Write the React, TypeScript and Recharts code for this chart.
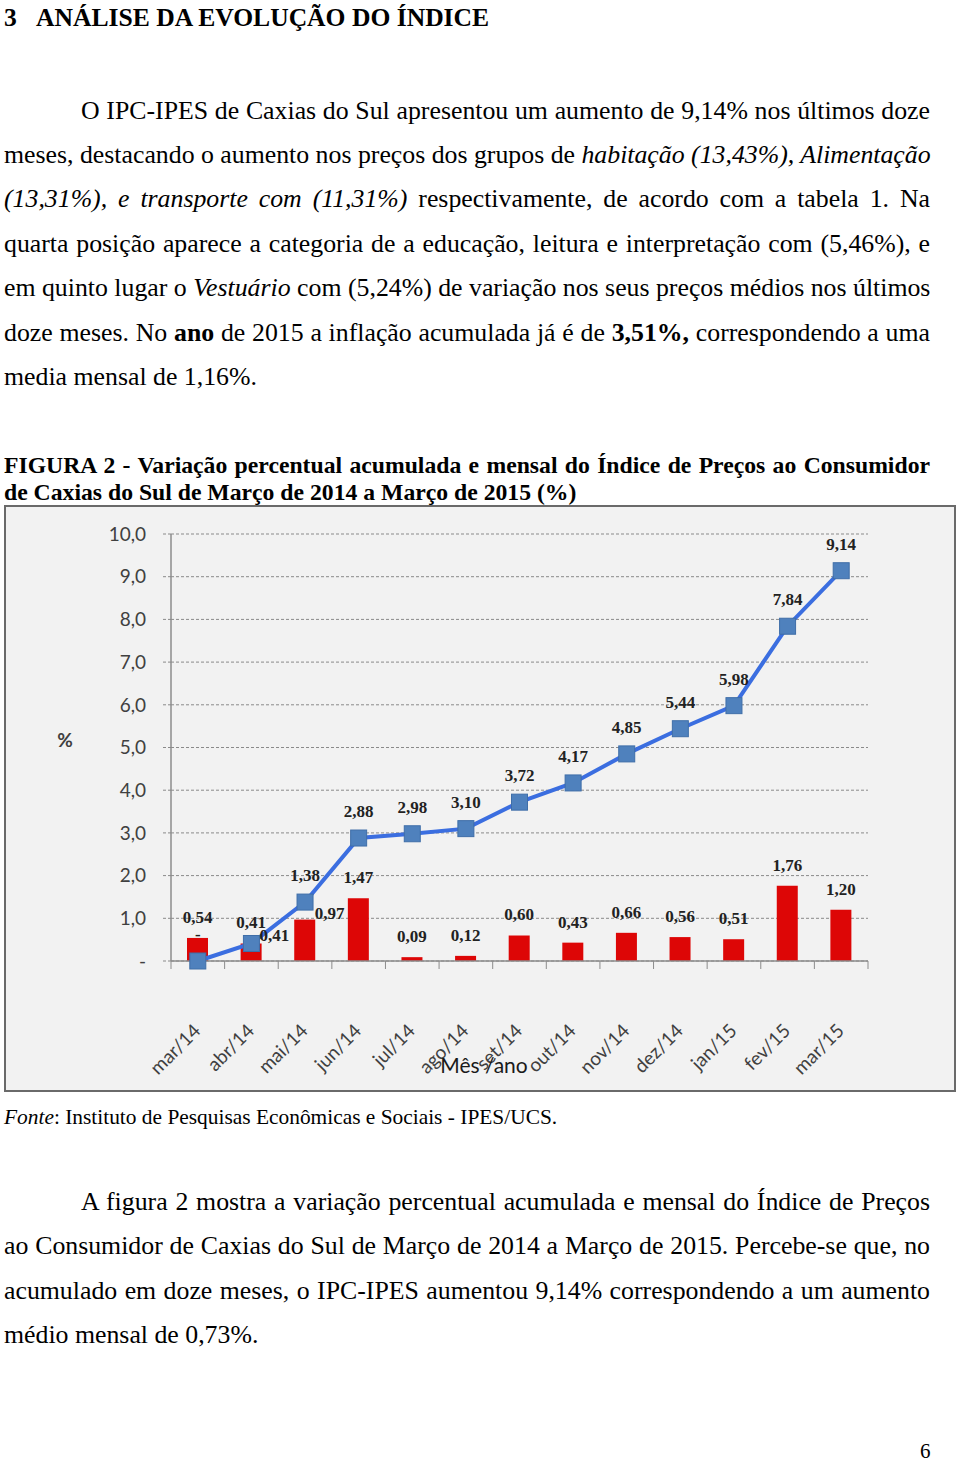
import React from 'react';
import { ComposedChart, Bar, Line, XAxis, YAxis, CartesianGrid, LabelList } from 'recharts';

const months = ['mar/14', 'abr/14', 'mai/14', 'jun/14', 'jul/14', 'ago/14', 'set/14', 'out/14', 'nov/14', 'dez/14', 'jan/15', 'fev/15', 'mar/15'];
const monthly = [0.54, 0.41, 0.97, 1.47, 0.09, 0.12, 0.6, 0.43, 0.66, 0.56, 0.51, 1.76, 1.2];
const accumulated = [0, 0.41, 1.38, 2.88, 2.98, 3.1, 3.72, 4.17, 4.85, 5.44, 5.98, 7.84, 9.14];
const yTicks = [0, 1, 2, 3, 4, 5, 6, 7, 8, 9, 10];

const data = months.map((m, i) => ({ month: m, monthly: monthly[i], accumulated: accumulated[i] }));

const CHART_W = 948;
const CHART_H = 583;
const PLOT_W = 697;
const BAND = PLOT_W / months.length;
const AXIS_GRAY = '#8c8c8c';
const SANS = 'Lato, "Open Sans", sans-serif';
const SERIF = '"Liberation Serif", "Times New Roman", serif';

const fmt1 = (v: number) => (v === 0 ? '-' : v.toFixed(1).replace('.', ','));
const fmt2 = (v: number) => (v === 0 ? '-' : v.toFixed(2).replace('.', ','));

const XTick = (props: any) => {
  const { x, y, payload, index } = props;
  const half = BAND / 2;
  const tx = x + 4;
  const ty = y + 71;
  return (
    <g>
      <line x1={x - half} x2={x - half} y1={y} y2={y + 8} stroke={AXIS_GRAY} />
      {index === months.length - 1 && (
        <line x1={x + half} x2={x + half} y1={y} y2={y + 8} stroke={AXIS_GRAY} />
      )}
      <text
        x={tx}
        y={ty}
        textAnchor="end"
        transform={`rotate(-45 ${tx} ${ty})`}
        fontFamily={SANS}
        fontSize={19}
        fill="#404040"
      >
        {payload.value}
      </text>
    </g>
  );
};

const BarLabel = (props: any) => {
  const { x, y, width, index, value } = props;
  const cx = x + width / 2;
  const gap = accumulated[index] - monthly[index];
  // line marker sits right on top of the bar: push the label aside
  const shift = gap > 0 && gap < 0.5;
  return (
    <text
      x={shift ? cx + 25 : cx}
      y={shift ? y - 1 : y - 15}
      textAnchor="middle"
      fontFamily={SERIF}
      fontWeight="bold"
      fontSize={17}
      fill="#222"
    >
      {fmt2(value)}
    </text>
  );
};

const LineLabel = (props: any) => {
  const { x, y, index, value } = props;
  const same = Math.abs(accumulated[index] - monthly[index]) < 0.05;
  return (
    <text
      x={same ? x + 23 : x}
      y={same ? y - 2 : y - 21}
      textAnchor="middle"
      fontFamily={SERIF}
      fontWeight="bold"
      fontSize={17}
      fill="#222"
    >
      {fmt2(value)}
    </text>
  );
};

const SquareDot = (props: any) => {
  const { cx, cy, index } = props;
  return <rect key={index} x={cx - 8} y={cy - 8} width={16} height={16} fill="#4f81bd" stroke="#3f6ea8" strokeWidth={1} />;
};

const TextLine = ({ cy, size, children, indent = 0, justify = true, bold = false }: any) => (
  <div
    style={{
      position: 'absolute',
      left: 4 + indent,
      top: cy - 16,
      width: 926 - indent,
      height: 32,
      lineHeight: '32px',
      fontSize: size,
      fontWeight: bold ? 'bold' : 'normal',
      whiteSpace: 'nowrap',
      textAlign: justify ? 'justify' : 'left',
      textAlignLast: justify ? 'justify' : 'left',
    }}
  >
    {children}
  </div>
);

export default function App() {
  return (
    <div
      style={{
        position: 'absolute',
        left: 0,
        top: 0,
        width: 960,
        height: 1463,
        background: '#fff',
        color: '#000',
        fontFamily: SERIF,
        overflow: 'hidden',
      }}
    >
      <TextLine cy={18} size={25.6} bold justify={false}>
        3&nbsp;&nbsp;&nbsp;ANÁLISE DA EVOLUÇÃO DO ÍNDICE
      </TextLine>

      <TextLine cy={111} size={25.8} indent={77}>
        O IPC-IPES de Caxias do Sul apresentou um aumento de 9,14% nos últimos doze
      </TextLine>
      <TextLine cy={155} size={25.8}>
        meses, destacando o aumento nos preços dos grupos de <i>habitação (13,43%), Alimentação</i>
      </TextLine>
      <TextLine cy={199} size={25.8}>
        <i>(13,31%), e transporte com (11,31%)</i> respectivamente, de acordo com a tabela 1. Na
      </TextLine>
      <TextLine cy={244} size={25.8}>
        quarta posição aparece a categoria de a educação, leitura e interpretação com (5,46%), e
      </TextLine>
      <TextLine cy={288} size={25.8}>
        em quinto lugar o <i>Vestuário</i> com (5,24%) de variação nos seus preços médios nos últimos
      </TextLine>
      <TextLine cy={333} size={25.8}>
        doze meses. No <b>ano</b> de 2015 a inflação acumulada já é de <b>3,51%,</b> correspondendo a uma
      </TextLine>
      <TextLine cy={377} size={25.8} justify={false}>
        media mensal de 1,16%.
      </TextLine>

      <TextLine cy={465} size={23.7} bold>
        FIGURA 2 - Variação percentual acumulada e mensal do Índice de Preços ao Consumidor
      </TextLine>
      <TextLine cy={492} size={23.7} bold justify={false}>
        de Caxias do Sul de Março de 2014 a Março de 2015 (%)
      </TextLine>

      <div
        style={{
          position: 'absolute',
          left: 4,
          top: 505,
          width: 952,
          height: 587,
          boxSizing: 'border-box',
          border: '2px solid #6a6a6a',
          background: '#f2f2f2',
        }}
      >
        <ComposedChart
          width={CHART_W}
          height={CHART_H}
          data={data}
          margin={{ top: 27, right: 86, bottom: 0, left: 0 }}
        >
          <CartesianGrid vertical={false} stroke="#8a8a8a" strokeDasharray="3 2" />
          <XAxis
            dataKey="month"
            height={129}
            interval={0}
            tickLine={false}
            tickSize={0}
            tickMargin={0}
            axisLine={{ stroke: AXIS_GRAY, strokeWidth: 1.5 }}
            tick={<XTick />}
          />
          <YAxis
            width={165}
            domain={[0, 10]}
            ticks={yTicks}
            tickFormatter={fmt1}
            axisLine={{ stroke: AXIS_GRAY, strokeWidth: 1.5 }}
            tickLine={{ stroke: '#8a8a8a', strokeDasharray: '3 2' }}
            tickSize={8}
            tickMargin={17}
            tick={{ fill: '#404040', fontSize: 19, fontFamily: SANS }}
          />
          <Bar dataKey="monthly" fill="#dd0606" barSize={21} isAnimationActive={false}>
            <LabelList dataKey="monthly" content={<BarLabel />} />
          </Bar>
          <Line
            dataKey="accumulated"
            stroke="#3b6ee0"
            strokeWidth={4}
            dot={<SquareDot />}
            activeDot={false}
            isAnimationActive={false}
          >
            <LabelList dataKey="accumulated" content={<LineLabel />} />
          </Line>
        </ComposedChart>
      </div>

      <div
        style={{
          position: 'absolute',
          left: 52,
          top: 728,
          width: 26,
          textAlign: 'center',
          fontFamily: SANS,
          fontSize: 19,
          fontWeight: 'bold',
          color: '#404040',
        }}
      >
        %
      </div>
      <div
        style={{
          position: 'absolute',
          left: 404,
          top: 1052,
          width: 160,
          textAlign: 'center',
          fontFamily: SANS,
          fontSize: 21,
          color: '#1a1a1a',
        }}
      >
        Mês /ano
      </div>

      <TextLine cy={1117} size={21.4} justify={false}>
        <i>Fonte</i>: Instituto de Pesquisas Econômicas e Sociais - IPES/UCS.
      </TextLine>

      <TextLine cy={1202} size={25.8} indent={77}>
        A figura 2 mostra a variação percentual acumulada e mensal do Índice de Preços
      </TextLine>
      <TextLine cy={1246} size={25.8}>
        ao Consumidor de Caxias do Sul de Março de 2014 a Março de 2015. Percebe-se que, no
      </TextLine>
      <TextLine cy={1291} size={25.8}>
        acumulado em doze meses, o IPC-IPES aumentou 9,14% correspondendo a um aumento
      </TextLine>
      <TextLine cy={1335} size={25.8} justify={false}>
        médio mensal de 0,73%.
      </TextLine>

      <div style={{ position: 'absolute', left: 920, top: 1439, fontSize: 21 }}>6</div>
    </div>
  );
}
